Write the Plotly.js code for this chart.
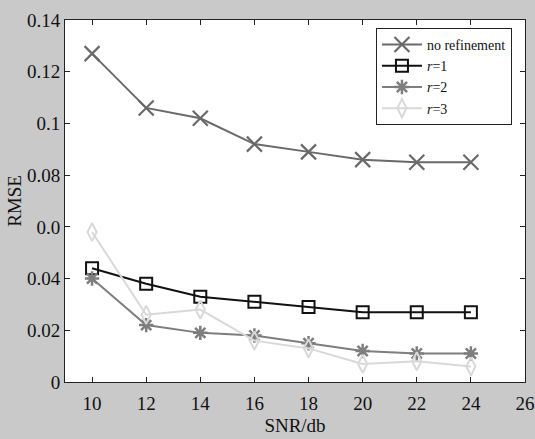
<!DOCTYPE html>
<html>
<head>
<meta charset="utf-8">
<script src="https://cdn.plot.ly/plotly-3.0.1.min.js"></script>
<style>html,body{margin:0;padding:0;background:#c9c9c9;}#chart{width:535px;height:439px;}</style>
</head>
<body>
<div id="chart"></div>
<script>
var snr = [10, 12, 14, 16, 18, 20, 22, 24];
var noRefinement = [0.127, 0.106, 0.102, 0.092, 0.089, 0.086, 0.085, 0.085];
var r1 = [0.044, 0.038, 0.033, 0.031, 0.029, 0.027, 0.027, 0.027];
var r2 = [0.040, 0.022, 0.019, 0.018, 0.015, 0.012, 0.011, 0.011];
var r3 = [0.058, 0.026, 0.028, 0.016, 0.013, 0.007, 0.008, 0.006];
var xTicks = [10, 12, 14, 16, 18, 20, 22, 24, 26];
var yTickVals = [0, 0.02, 0.04, 0.06, 0.08, 0.1, 0.12, 0.14];
var yTickText = ['0', '0.02', '0.04', '0.0', '0.08', '0.1', '0.12', '0.14'];

var font = '"Liberation Serif", "Times New Roman", serif';
var traces = [
  {x: snr, y: noRefinement, name: 'no refinement', mode: 'lines+markers',
   line: {color: '#6a6a6a', width: 2},
   marker: {symbol: 'x-thin', size: 15, line: {color: '#6a6a6a', width: 2.2}, color: '#6a6a6a'}},
  {x: snr, y: r1, name: '<i>r</i>=1', mode: 'lines+markers',
   line: {color: '#111111', width: 2},
   marker: {symbol: 'square-open', size: 12, line: {color: '#111111', width: 2}, color: '#111111'}},
  {x: snr, y: r2, name: '<i>r</i>=2', mode: 'lines+markers',
   line: {color: '#7e7e7e', width: 2},
   marker: {symbol: 'asterisk-open', size: 12, line: {color: '#7e7e7e', width: 2.5}, color: '#7e7e7e'}},
  {x: snr, y: r3, name: '<i>r</i>=3', mode: 'lines+markers',
   line: {color: '#d9d9d9', width: 2},
   marker: {symbol: 'diamond-tall-open', size: 13, line: {color: '#d9d9d9', width: 2}, color: '#d9d9d9'}}
];

var layout = {
  width: 535, height: 439,
  paper_bgcolor: '#c9c9c9', plot_bgcolor: '#ffffff',
  margin: {l: 65, r: 10, t: 20, b: 57},
  font: {family: font, size: 18, color: '#111111'},
  showlegend: true,
  legend: {x: 0.676, y: 0.978, xanchor: 'left', yanchor: 'top',
    bgcolor: '#ffffff', bordercolor: '#222222', borderwidth: 1,
    font: {family: font, size: 14, color: '#111111'},
    tracegroupgap: 0, itemwidth: 40},
  xaxis: {range: [9, 26], tickvals: xTicks, ticks: 'inside', ticklen: 5,
    tickcolor: '#222', showline: true, linecolor: '#222', linewidth: 1, mirror: 'ticks',
    showgrid: false, zeroline: false, ticklabelstandoff: 4,
    tickfont: {family: font, size: 19, color: '#111'},
    title: {text: 'SNR/db', font: {family: font, size: 19, color: '#111'}, standoff: 5}},
  yaxis: {range: [0, 0.14], tickvals: yTickVals, ticktext: yTickText, ticks: 'inside', ticklen: 5,
    tickcolor: '#222', showline: true, linecolor: '#222', linewidth: 1, mirror: 'ticks',
    showgrid: false, zeroline: false,
    tickfont: {family: font, size: 19, color: '#111'},
    title: {text: 'RMSE', font: {family: font, size: 19, color: '#111'}, standoff: 0}}
};

Plotly.newPlot('chart', traces, layout, {displayModeBar: false, staticPlot: true});
</script>
</body>
</html>
